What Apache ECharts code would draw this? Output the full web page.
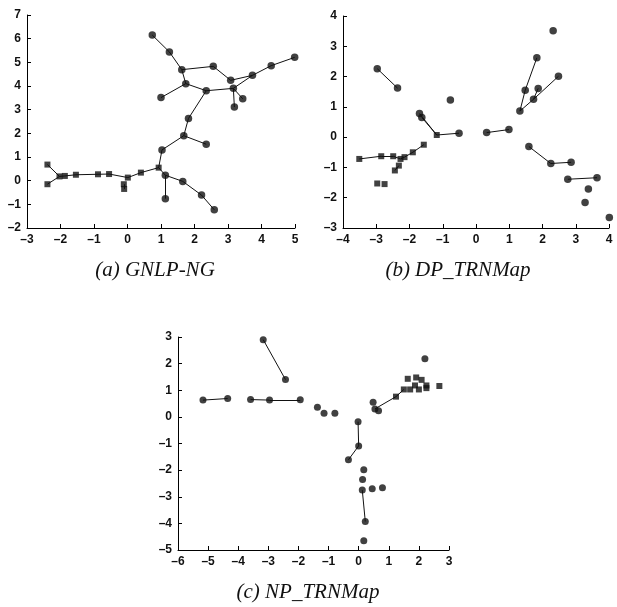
<!DOCTYPE html>
<html><head><meta charset="utf-8">
<script src="https://cdn.jsdelivr.net/npm/echarts@6/dist/echarts.min.js"></script>
<style>html,body{margin:0;padding:0;background:#fff}#c{width:617px;height:607px}</style>
</head><body><div id="c"></div>
<script>
// ---------- Panel (a) GNLP-NG ----------
const aCircles = [[0.74,6.15],[1.25,5.44],[1.62,4.69],[2.56,4.83],[3.08,4.24],[3.73,4.45],[4.29,4.86],[4.99,5.21],
  [1.74,4.10],[1.00,3.51],[2.35,3.80],[3.16,3.90],[3.44,3.46],[3.19,3.11],[1.82,2.63],[1.68,1.90],[2.35,1.54],
  [1.03,1.30],[1.13,0.23],[1.13,-0.76],[1.65,-0.03],[2.21,-0.61],[2.59,-1.23]];
const aSquares = [[-2.39,0.68],[-2.39,-0.15],[-2.03,0.18],[-1.87,0.20],[-1.54,0.25],[-0.88,0.27],[-0.55,0.28],
  [0.01,0.13],[-0.11,-0.15],[-0.10,-0.35],[0.40,0.34],[0.93,0.55]];
const aEdges = [
  [[-2.39,0.68],[-2.03,0.18]],[[-2.39,-0.15],[-2.03,0.18]],[[-2.03,0.18],[-1.87,0.20]],[[-1.87,0.20],[-1.54,0.25]],
  [[-1.54,0.25],[-0.88,0.27]],[[-0.88,0.27],[-0.55,0.28]],[[-0.55,0.28],[0.01,0.13]],[[0.01,0.13],[0.40,0.34]],
  [[0.40,0.34],[0.93,0.55]],[[-0.11,-0.15],[-0.10,-0.35]],
  [[0.93,0.55],[1.03,1.30]],[[1.03,1.30],[1.68,1.90]],[[1.68,1.90],[1.82,2.63]],[[1.82,2.63],[2.35,3.80]],
  [[1.68,1.90],[2.35,1.54]],
  [[0.93,0.55],[1.13,0.23]],[[1.13,0.23],[1.13,-0.76]],[[1.13,0.23],[1.65,-0.03]],[[1.65,-0.03],[2.21,-0.61]],
  [[2.21,-0.61],[2.59,-1.23]],
  [[2.35,3.80],[1.74,4.10]],[[1.74,4.10],[1.00,3.51]],[[1.74,4.10],[1.62,4.69]],[[1.62,4.69],[1.25,5.44]],
  [[1.25,5.44],[0.74,6.15]],[[1.62,4.69],[2.56,4.83]],[[2.56,4.83],[3.08,4.24]],[[3.08,4.24],[3.73,4.45]],
  [[2.35,3.80],[3.16,3.90]],[[3.16,3.90],[3.19,3.11]],[[3.16,3.90],[3.44,3.46]],[[3.16,3.90],[3.73,4.45]],
  [[3.73,4.45],[4.29,4.86]],[[4.29,4.86],[4.99,5.21]]
];
const aXTicks = [-3,5,1], aYTicks = [-2,7,1];

// ---------- Panel (b) DP_TRNMap ----------
const bCircles = [[-2.97,2.26],[-2.36,1.62],[-1.70,0.78],[-1.63,0.65],[-0.77,1.23],[-0.51,0.13],[0.32,0.15],[0.99,0.25],
  [1.32,0.86],[1.48,1.55],[1.83,2.62],[1.87,1.61],[1.73,1.25],[2.48,2.01],[2.32,3.51],[1.59,-0.31],[2.25,-0.87],
  [2.86,-0.83],[2.76,-1.39],[3.64,-1.34],[3.38,-1.71],[3.28,-2.16],[4.01,-2.65]];
const bSquares = [[-3.51,-0.72],[-2.85,-0.63],[-2.49,-0.63],[-2.27,-0.72],[-2.15,-0.66],[-1.90,-0.50],[-1.57,-0.25],
  [-1.18,0.07],[-2.32,-0.94],[-2.44,-1.10],[-2.97,-1.53],[-2.75,-1.55]];
const bEdges = [
  [[-2.97,2.26],[-2.36,1.62]],[[-1.70,0.78],[-1.18,0.07]],[[-1.63,0.65],[-1.18,0.07]],[[-1.18,0.07],[-0.51,0.13]],
  [[0.32,0.15],[0.99,0.25]],[[1.32,0.86],[1.48,1.55]],[[1.48,1.55],[1.83,2.62]],[[1.32,0.86],[1.73,1.25]],
  [[1.73,1.25],[2.48,2.01]],[[1.73,1.25],[1.87,1.61]],[[1.59,-0.31],[2.25,-0.87]],[[2.25,-0.87],[2.86,-0.83]],
  [[2.76,-1.39],[3.64,-1.34]],
  [[-3.51,-0.72],[-2.85,-0.63]],[[-2.85,-0.63],[-2.49,-0.63]],[[-2.49,-0.63],[-2.27,-0.72]],[[-2.27,-0.72],[-2.15,-0.66]],
  [[-2.15,-0.66],[-1.90,-0.50]],[[-1.90,-0.50],[-1.57,-0.25]],[[-2.32,-0.94],[-2.44,-1.10]]
];
const bXTicks = [-4,4,1], bYTicks = [-3,4,1];

// ---------- Panel (c) NP_TRNMap ----------
const cCircles = [[-3.17,2.90],[-2.43,1.40],[-5.17,0.63],[-4.35,0.69],[-3.59,0.65],[-2.96,0.63],[-1.94,0.64],
  [-1.37,0.36],[-1.15,0.14],[-0.79,0.14],[-0.02,-0.18],[0.00,-1.09],[-0.34,-1.61],[0.48,0.55],[0.54,0.30],[0.66,0.23],
  [0.17,-1.99],[0.13,-2.35],[0.12,-2.75],[0.45,-2.70],[0.79,-2.66],[0.22,-3.93],[0.17,-4.65],[2.20,2.18]];
const cSquares = [[1.24,0.76],[1.50,1.03],[1.63,1.43],[1.71,1.03],[1.87,1.18],[1.91,1.48],[2.09,1.39],[2.00,1.03],
  [2.25,1.18],[2.25,1.08],[2.68,1.16]];
const cEdges = [
  [[-3.17,2.90],[-2.43,1.40]],[[-5.17,0.63],[-4.35,0.69]],[[-3.59,0.65],[-2.96,0.63]],[[-2.96,0.63],[-1.94,0.64]],
  [[-0.02,-0.18],[0.00,-1.09]],[[0.00,-1.09],[-0.34,-1.61]],[[0.54,0.30],[1.24,0.76]],[[0.12,-2.75],[0.22,-3.93]],
  [[1.24,0.76],[1.50,1.03]]
];
const cXTicks = [-6,3,1], cYTicks = [-5,3,1];

const captions = ['(a) GNLP-NG', '(b) DP_TRNMap', '(c) NP_TRNMap'];

// ---------- build ----------
const grids = [
  {left:27, top:15, width:268, height:213},
  {left:343, top:16, width:266, height:212},
  {left:178, top:337, width:271, height:213}
];
const ticks = [[aXTicks,aYTicks],[bXTicks,bYTicks],[cXTicks,cYTicks]];
const fmt = v => String(v).replace('-', '\u2013');
const axisCommon = {
  type:'value', splitLine:{show:false},
  axisLine:{show:true, onZero:false, lineStyle:{color:'#000', width:1}},
  axisTick:{show:true, inside:true, length:4, lineStyle:{color:'#000'}},
  axisLabel:{color:'#111', fontFamily:'Liberation Sans, Arial, sans-serif', fontWeight:'bold', fontSize:12, formatter:fmt}
};
const xAxis = [], yAxis = [], series = [];
ticks.forEach((t,i)=>{
  xAxis.push(Object.assign({}, axisCommon, {gridIndex:i, min:t[0][0], max:t[0][1], interval:t[0][2],
    axisLabel:Object.assign({}, axisCommon.axisLabel, {margin:6})}));
  yAxis.push(Object.assign({}, axisCommon, {gridIndex:i, min:t[1][0], max:t[1][1], interval:t[1][2],
    axisLabel:Object.assign({}, axisCommon.axisLabel, {margin:6})}));
});
const panels = [[aCircles,aSquares,aEdges],[bCircles,bSquares,bEdges],[cCircles,cSquares,cEdges]];
panels.forEach((p,i)=>{
  series.push({type:'lines', coordinateSystem:'cartesian2d', xAxisIndex:i, yAxisIndex:i, silent:true, clip:false,
    lineStyle:{color:'#111', width:1, opacity:1}, data:p[2].map(e=>({coords:e})), z:1});
  series.push({type:'scatter', xAxisIndex:i, yAxisIndex:i, symbol:'circle', symbolSize:i===2?7:7.5, clip:false,
    itemStyle:{color:'#111'}, data:p[0], z:2});
  series.push({type:'scatter', xAxisIndex:i, yAxisIndex:i, symbol:'rect', symbolSize:6, clip:false,
    itemStyle:{color:'#111'}, data:p[1], z:2});
});
const capPos = [[155,270],[458,270],[308,592]];
const graphic = captions.map((c,i)=>({type:'text', x:capPos[i][0], y:capPos[i][1],
  style:{text:c, fill:'#111', font:'italic 21px "Liberation Serif", "Times New Roman", serif', textAlign:'center', textVerticalAlign:'middle'}}));
const chart = echarts.init(document.getElementById('c'), null, {renderer:'canvas'});
chart.setOption({animation:false, grid:grids, xAxis, yAxis, series, graphic});
</script></body></html>
